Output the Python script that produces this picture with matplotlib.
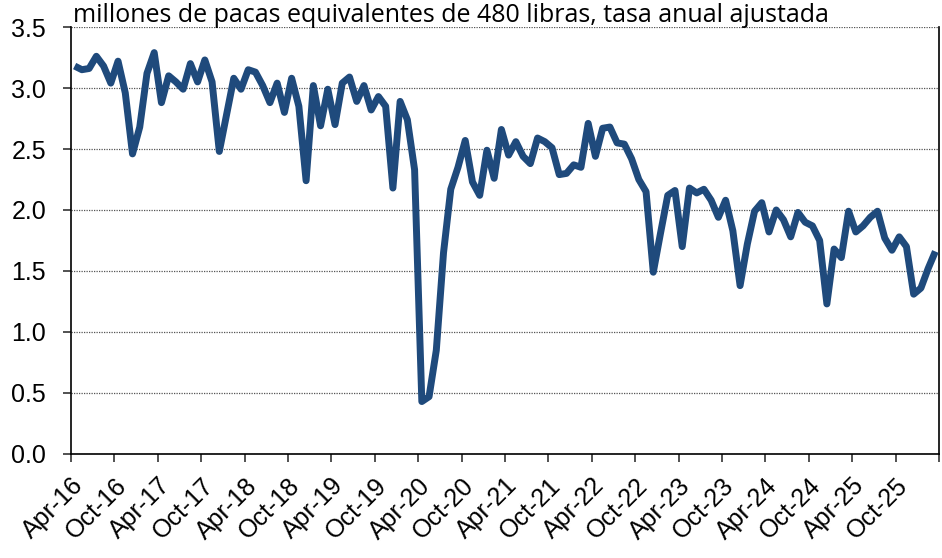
import numpy as np
import matplotlib
matplotlib.use("Agg")
import matplotlib.pyplot as plt

# monthly values, Apr-16 .. Mar-26 (millions of 480-lb bales, SAAR)
values = [
    3.18, 3.15, 3.16, 3.26, 3.18, 3.04, 3.22, 2.96, 2.46, 2.68, 3.12, 3.29,  # Apr-16..Mar-17
    2.88, 3.10, 3.05, 2.99, 3.20, 3.05, 3.23, 3.05, 2.48, 2.78, 3.08, 2.99,  # Apr-17..Mar-18
    3.15, 3.13, 3.02, 2.88, 3.04, 2.80, 3.08, 2.85, 2.24, 3.02, 2.69, 2.99,  # Apr-18..Mar-19
    2.70, 3.04, 3.09, 2.89, 3.02, 2.82, 2.93, 2.85, 2.18, 2.89, 2.74, 2.33,  # Apr-19..Mar-20
    0.43, 0.47, 0.85, 1.65, 2.17, 2.35, 2.57, 2.23, 2.12, 2.49, 2.26, 2.66,  # Apr-20..Mar-21
    2.45, 2.56, 2.44, 2.38, 2.59, 2.56, 2.51, 2.29, 2.30, 2.37, 2.35, 2.71,  # Apr-21..Mar-22
    2.44, 2.67, 2.68, 2.55, 2.54, 2.42, 2.25, 2.15, 1.49, 1.81, 2.12, 2.16,  # Apr-22..Mar-23
    1.70, 2.18, 2.14, 2.17, 2.08, 1.94, 2.08, 1.83, 1.38, 1.72, 1.99, 2.06,  # Apr-23..Mar-24
    1.82, 2.00, 1.92, 1.78, 1.98, 1.90, 1.87, 1.75, 1.23, 1.68, 1.61, 1.99,  # Apr-24..Mar-25
    1.82, 1.87, 1.94, 1.99, 1.77, 1.67, 1.78, 1.70, 1.31, 1.36, 1.52, 1.66,  # Apr-25..Mar-26
]

tick_labels = ["Apr-16", "Oct-16", "Apr-17", "Oct-17", "Apr-18", "Oct-18",
               "Apr-19", "Oct-19", "Apr-20", "Oct-20", "Apr-21", "Oct-21",
               "Apr-22", "Oct-22", "Apr-23", "Oct-23", "Apr-24", "Oct-24",
               "Apr-25", "Oct-25", ""]
y_ticks = [0.0, 0.5, 1.0, 1.5, 2.0, 2.5, 3.0, 3.5]
title = "millones de pacas equivalentes de 480 libras, tasa anual ajustada"

plt.rcParams["font.family"] = ["Liberation Sans", "DejaVu Sans"]

fig = plt.figure(figsize=(9.42, 5.58), dpi=100)
ax = fig.add_axes([0.0754, 0.1864, 0.9214, 0.7652])

# points sit between month tick marks
x = np.arange(len(values)) + 0.5
ax.plot(x, values, color="#1f4a7c", lw=5.0, solid_joinstyle="round",
        solid_capstyle="butt", zorder=3)

ax.set_xlim(0, 120)
ax.set_ylim(0, 3.5)
ax.set_xticks(np.arange(0, 121, 6))
ax.set_xticklabels(tick_labels, rotation=45, ha="right", rotation_mode="anchor",
                   fontsize=18)
ax.set_yticks(y_ticks)
ax.set_yticklabels([f"{v:.1f}" for v in y_ticks], fontsize=18)

ax.grid(axis="y", linestyle=(0, (1, 1)), color="#555555", lw=0.9)
ax.set_axisbelow(True)

for s in ["left", "bottom", "right"]:
    ax.spines[s].set_color("black")
    ax.spines[s].set_linewidth(1.2)
ax.spines["top"].set_visible(False)
ax.tick_params(axis="both", direction="out", length=6, width=1.2, color="#333333")
ax.tick_params(axis="y", pad=12)
ax.tick_params(axis="x", pad=8)

fig.text(0.0775, 0.972, title, fontsize=18, ha="left", va="center",
         family=["Open Sans", "DejaVu Sans"])

fig.savefig("out.png", dpi=100)
